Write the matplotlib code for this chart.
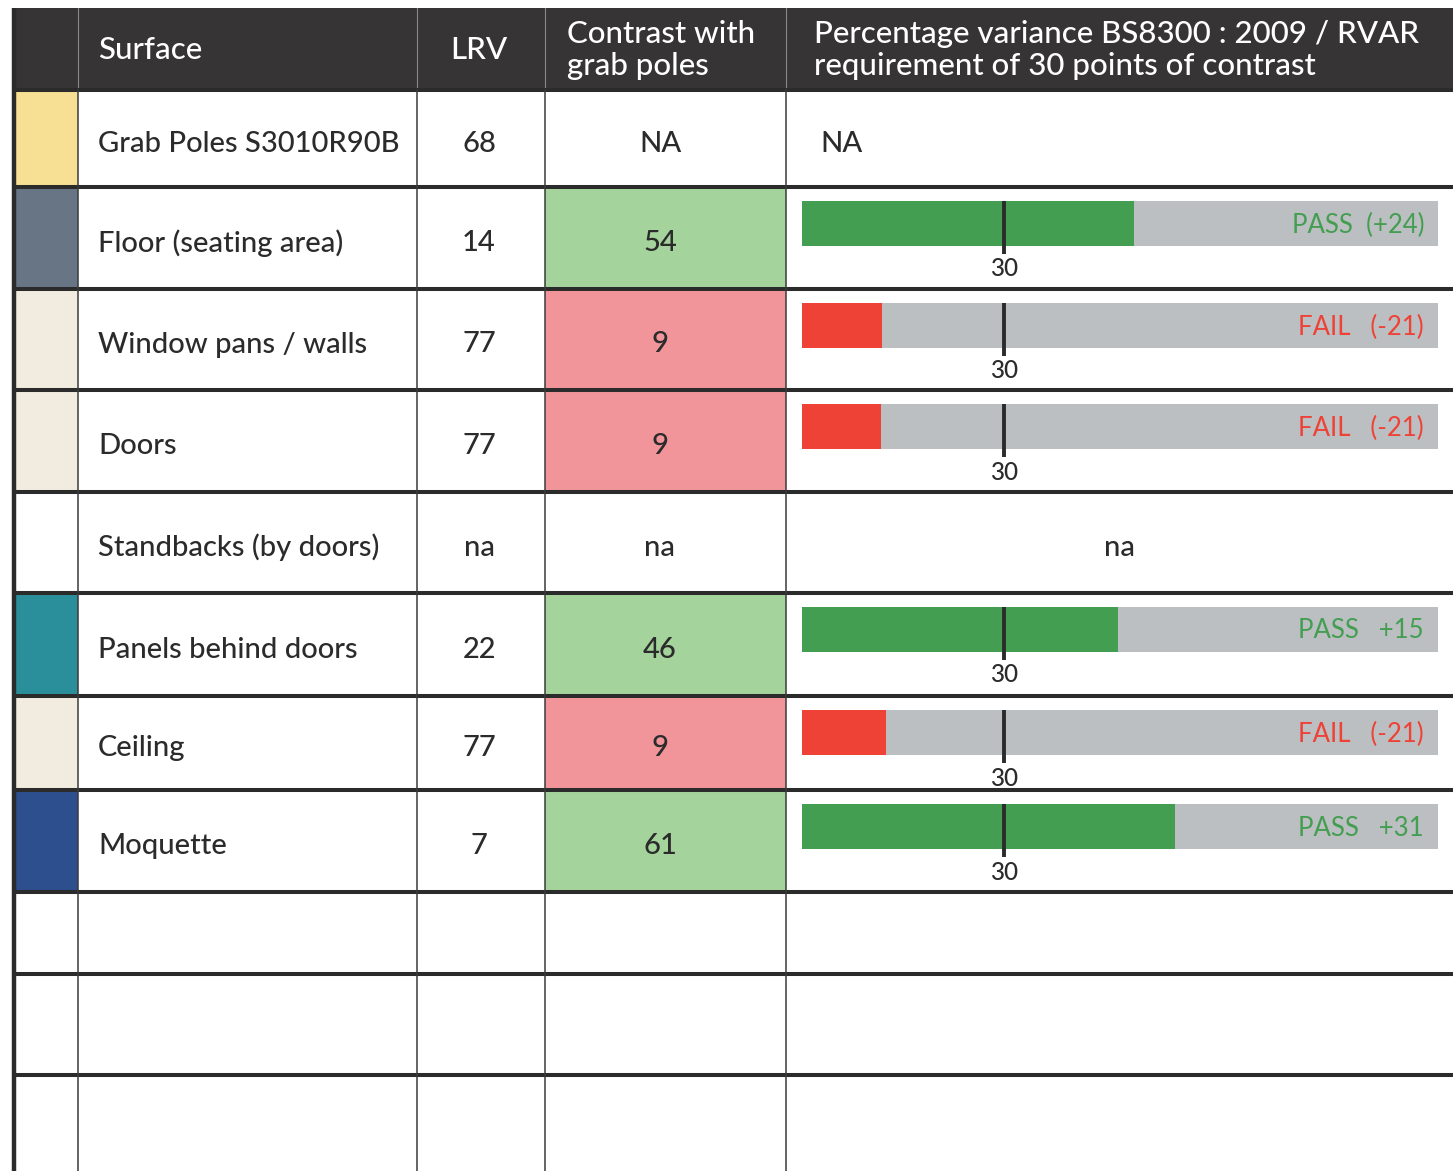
import matplotlib
matplotlib.use('Agg')
import matplotlib.pyplot as plt
from matplotlib.patches import Rectangle

plt.rcParams['font.family'] = ['Lato', 'DejaVu Sans']

# table content
headers = ['Surface', 'LRV', 'Contrast with\ngrab poles',
           'Percentage variance BS8300 : 2009 / RVAR\nrequirement of 30 points of contrast']
surfaces = ['Grab Poles S3010R90B', 'Floor (seating area)', 'Window pans / walls', 'Doors',
            'Standbacks (by doors)', 'Panels behind doors', 'Ceiling', 'Moquette']
lrv = ['68', '14', '77', '77', 'na', '22', '77', '7']
contrast = ['NA', '54', '9', '9', 'na', '46', '9', '61']
swatch_colors = ['#f7df93', '#687584', '#f2ebdf', '#f2ebdf', '#ffffff',
                 '#2a8f9a', '#f2ebdf', '#2e4f8e']
verdict = [None, 'pass', 'fail', 'fail', None, 'pass', 'fail', 'pass']
# bar lengths as drawn in the picture (scale where the 30 mark sits)
bar_fill = [None, 49.3, 11.9, 11.7, None, 47.0, 12.5, 55.4]
bar_labels = ['', 'PASS  (+24)', 'FAIL   (-21)', 'FAIL   (-21)', '',
              'PASS   +15', 'FAIL   (-21)', 'PASS   +31']
variance_text = ['NA', '', '', '', 'na', '', '', '']
threshold = 30
scale_max = 94.5

W, H = 1453, 1171
col_x = [14, 78, 417, 545, 786, 1453]
row_y = [90, 187, 289, 390, 492, 593, 696, 790, 892, 974, 1075, 1171]

dark = '#2b2b2b'
head_bg = '#363435'
cell_col = {'pass': '#a4d49c', 'fail': '#f2959a'}
bar_col = {'pass': '#449e51', 'fail': '#ee4237'}
grey = '#bcbfc1'
fs = 21
wt = 'medium'

fig = plt.figure(figsize=(W / 100, H / 100), dpi=100)
ax = fig.add_axes([0, 0, 1, 1])
ax.set_xlim(0, W)
ax.set_ylim(H, 0)
ax.axis('off')

# header
ax.add_patch(Rectangle((12, 8), W - 12, row_y[0] - 8, color=head_bg, lw=0))
for x in col_x[1:5]:
    ax.plot([x, x], [8, row_y[0]], color='#8a8a8a', lw=0.8)
ax.plot([12, W], [row_y[0], row_y[0]], color='#9a9a9a', lw=0.8)
hy = (8 + row_y[0]) / 2 + 1
hfs = 22.5
ax.text(98, hy, headers[0], color='white', fontsize=hfs, ha='left', va='center', weight=wt)
ax.text(479, hy, headers[1], color='white', fontsize=hfs, ha='center', va='center', weight=wt)
ax.text(567, hy, headers[2], color='white', fontsize=hfs, ha='left', va='center',
        linespacing=1.2, weight=wt)
ax.text(814, hy, headers[3], color='white', fontsize=hfs, ha='left', va='center',
        linespacing=1.2, weight=wt)

for i, name in enumerate(surfaces):
    top, bot = row_y[i], row_y[i + 1]
    cy = (top + bot) / 2 + 5
    ax.add_patch(Rectangle((col_x[0], top), col_x[1] - col_x[0], bot - top,
                           color=swatch_colors[i], lw=0))
    if verdict[i]:
        ax.add_patch(Rectangle((col_x[3], top), col_x[4] - col_x[3], bot - top,
                               color=cell_col[verdict[i]], lw=0))
    ax.text(98, cy, name, color=dark, fontsize=fs, ha='left', va='center', weight=wt)
    ax.text(479, cy, lrv[i], color=dark, fontsize=fs, ha='center', va='center', weight=wt)
    ax.text(660, cy, contrast[i], color=dark, fontsize=fs, ha='center', va='center', weight=wt)
    if variance_text[i] == 'NA':
        ax.text(820, cy, variance_text[i], color=dark, fontsize=fs, ha='left', va='center',
                weight=wt)
    elif variance_text[i]:
        ax.text(1120, cy, variance_text[i], color=dark, fontsize=fs, ha='center', va='center',
                weight=wt)

    if bar_fill[i] is not None:
        btop = top + 14
        bax = fig.add_axes([802 / W, 1 - (btop + 76) / H, 636 / W, 76 / H])
        bax.set_xlim(0, scale_max)
        bax.set_ylim(76, 0)
        bax.axis('off')
        bax.barh(22.5, scale_max, height=45, color=grey, lw=0)
        bax.barh(22.5, bar_fill[i], height=45, color=bar_col[verdict[i]], lw=0)
        bax.plot([threshold, threshold], [0, 53], color=dark, lw=2.8, solid_capstyle='butt')
        bax.text(threshold, 68, str(threshold), color=dark, fontsize=17.5, ha='center',
                 va='center', weight=wt)
        bax.text(0.978, 24, bar_labels[i], color=bar_col[verdict[i]], fontsize=18.5,
                 ha='right', va='center', transform=bax.get_yaxis_transform())

# grid lines
for y in row_y[:-1]:
    ax.plot([12, W], [y, y], color=dark, lw=2.9, solid_capstyle='butt')
for x in col_x[1:5]:
    ax.plot([x, x], [row_y[0], H], color='#3a3a3a', lw=1.1)
ax.plot([14, 14], [8, H], color=dark, lw=3.2, solid_capstyle='butt')

fig.savefig('out.png', dpi=100)
